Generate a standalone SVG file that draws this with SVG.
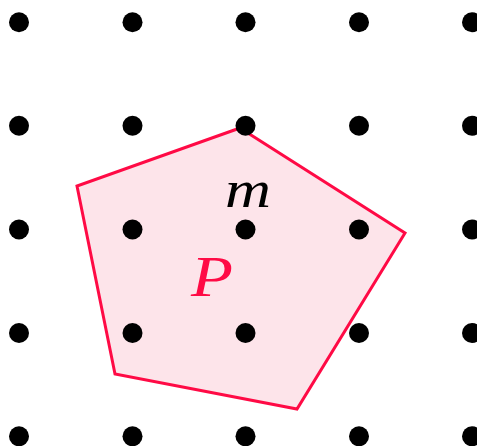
<svg xmlns="http://www.w3.org/2000/svg" width="477" height="446" viewBox="0 0 477 446">
<style>
.dot{fill:#000}
.poly{fill:#fde4ea;stroke:#ff0a45;stroke-width:3;stroke-linejoin:miter}
.lbl{font-family:"Liberation Serif","DejaVu Serif",serif;font-style:italic}
</style>
<rect width="477" height="446" fill="#fff"/>
<g id="polygon-P">
<polygon class="poly" points="240,128 405,233 297,409 115,374 77,186"/>
</g>
<g id="lattice">
<g id="row1"><circle class="dot" cx="19" cy="22.3" r="10"/><circle class="dot" cx="132.5" cy="22.3" r="10"/><circle class="dot" cx="245.5" cy="22.3" r="10"/><circle class="dot" cx="359" cy="22.3" r="10"/><circle class="dot" cx="472" cy="22.3" r="10"/></g>
<g id="row2"><circle class="dot" cx="19" cy="125.8" r="10"/><circle class="dot" cx="132.5" cy="125.8" r="10"/><circle class="dot" cx="245.5" cy="125.8" r="10"/><circle class="dot" cx="359" cy="125.8" r="10"/><circle class="dot" cx="472" cy="125.8" r="10"/></g>
<g id="row3"><circle class="dot" cx="19" cy="229.5" r="10"/><circle class="dot" cx="132.5" cy="229.5" r="10"/><circle class="dot" cx="245.5" cy="229.5" r="10"/><circle class="dot" cx="359" cy="229.5" r="10"/><circle class="dot" cx="472" cy="229.5" r="10"/></g>
<g id="row4"><circle class="dot" cx="19" cy="333" r="10"/><circle class="dot" cx="132.5" cy="333" r="10"/><circle class="dot" cx="245.5" cy="333" r="10"/><circle class="dot" cx="359" cy="333" r="10"/><circle class="dot" cx="472" cy="333" r="10"/></g>
<g id="row5"><circle class="dot" cx="19" cy="436.3" r="10"/><circle class="dot" cx="132.5" cy="436.3" r="10"/><circle class="dot" cx="245.5" cy="436.3" r="10"/><circle class="dot" cx="359" cy="436.3" r="10"/><circle class="dot" cx="472" cy="436.3" r="10"/></g>
</g>
<g id="labels">
<text class="lbl" x="225" y="206.5" font-size="52" textLength="46" lengthAdjust="spacingAndGlyphs" fill="#000">m</text>
<text class="lbl" x="191" y="295.5" font-size="56" textLength="42" lengthAdjust="spacingAndGlyphs" fill="#ff0a45">P</text>
</g>
</svg>
